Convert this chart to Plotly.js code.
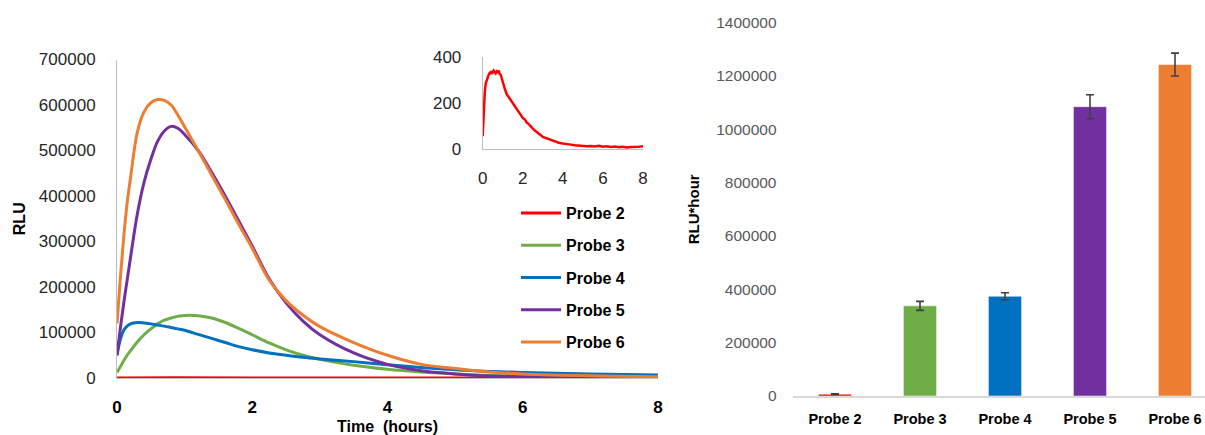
<!DOCTYPE html>
<html>
<head>
<meta charset="utf-8">
<script src="https://cdn.plot.ly/plotly-3.0.1.min.js"></script>
<style>html,body{margin:0;padding:0;background:#fff;}#chart{width:1205px;height:435px;}</style>
</head>
<body>
<div id="chart"></div>
<script>
// ---- Data ----
const probeNames = ["Probe 2", "Probe 3", "Probe 4", "Probe 5", "Probe 6"];
const probeColors = ["#FF0000", "#70AD47", "#0070C0", "#7030A0", "#ED7D31"];

// Kinetic curves, time in hours
const timeHours = [0, 0.05, 0.1, 0.15, 0.2, 0.3, 0.4, 0.5, 0.6, 0.7, 0.8, 0.9, 1.0, 1.2, 1.4, 1.6, 1.8, 2.0, 2.25, 2.5, 2.75, 3.0, 3.5, 4.0, 4.5, 5.0, 5.5, 6.0, 7.0, 8.0];
const probe3RLU = [12000, 25000, 38000, 50000, 60000, 79000, 95000, 108000, 119000, 127000, 132000, 135500, 137500, 137000, 132000, 122000, 109000, 95000, 77000, 62000, 50000, 41000, 28000, 19000, 13000, 9000, 6000, 4500, 2500, 1500];
const probe4RLU = [50000, 85000, 105000, 114000, 119000, 122000, 121000, 119000, 116500, 114000, 111000, 108000, 105000, 96000, 87000, 78000, 69000, 62000, 55000, 50000, 45500, 42000, 36000, 29000, 23000, 18000, 14500, 12000, 9000, 6500];
const probe5RLU = [50000, 110000, 165000, 215000, 265000, 360000, 430000, 480000, 520000, 543000, 553000, 549000, 535000, 500000, 452000, 400000, 345000, 290000, 218000, 165000, 125000, 95000, 55000, 30000, 16000, 9000, 4500, 2500, 1000, 500];
const probe6RLU = [120000, 220000, 310000, 385000, 440000, 540000, 585000, 605000, 612000, 610000, 600000, 578000, 552000, 500000, 446000, 393000, 338000, 285000, 215000, 170000, 138000, 113000, 78000, 50000, 30000, 21000, 13000, 9000, 5000, 3000];

// Probe 2 (inset, noisy low signal)
const probe2Time = [0, 0.05, 0.1, 0.15, 0.2, 0.25, 0.3, 0.35, 0.4, 0.45, 0.5, 0.55, 0.6, 0.65, 0.7, 0.75, 0.8, 0.85, 0.9, 0.95, 1.0,
  1.1, 1.2, 1.3, 1.4, 1.5, 1.6, 1.7, 1.8, 1.9, 2.0, 2.1, 2.2, 2.3, 2.4, 2.5, 2.6, 2.7, 2.8, 2.9, 3.0,
  3.2, 3.4, 3.6, 3.8, 4.0, 4.2, 4.4, 4.6, 4.8, 5.0, 5.2, 5.4, 5.6, 5.8, 6.0, 6.2, 6.4, 6.6, 6.8, 7.0, 7.2, 7.4, 7.6, 7.8, 8.0];
const probe2RLU = [55, 170, 240, 285, 300, 318, 322, 330, 328, 338, 332, 340, 335, 328, 336, 330, 340, 325, 322, 305, 290,
  262, 238, 225, 208, 196, 182, 170, 158, 148, 135, 128, 114, 108, 96, 88, 80, 74, 66, 60, 52,
  46, 38, 33, 27, 24, 20, 19, 16, 14, 15, 12, 13, 11, 14, 10, 12, 9, 11, 8, 10, 7, 9, 8, 10, 12];

// Integrated signal (RLU*hour)
const aucValues = [7000, 338000, 374000, 1085000, 1243000];
const aucErrors = [1000, 17000, 13000, 45000, 43000];

const mainYTicks = [0, 100000, 200000, 300000, 400000, 500000, 600000, 700000];
const insetYTicks = [0, 200, 400];
const timeTicks = [0, 2, 4, 6, 8];
const barYTicks = [0, 200000, 400000, 600000, 800000, 1000000, 1200000, 1400000];

// ---- Traces ----
const FONT = "Liberation Sans, Arial, sans-serif";
const curveSeries = [probe2RLU, probe3RLU, probe4RLU, probe5RLU, probe6RLU];
const traces = [];
curveSeries.forEach((vals, i) => {
  traces.push({
    type: "scatter", mode: "lines",
    x: i === 0 ? probe2Time : timeHours, y: vals,
    name: probeNames[i],
    legendgroup: "g" + i,
    line: {color: probeColors[i], width: 3, shape: i === 0 ? "linear" : "spline", smoothing: 1},
    xaxis: "x", yaxis: "y", hoverinfo: "skip"
  });
});
traces.push({
  type: "scatter", mode: "lines", x: probe2Time, y: probe2RLU,
  line: {color: "#FF0000", width: 2.5}, xaxis: "x2", yaxis: "y2",
  showlegend: false, hoverinfo: "skip"
});
traces.push({
  type: "bar", x: probeNames, y: aucValues, width: 0.39,
  marker: {color: probeColors, line: {color: "#ffffff", width: 0.5}},
  error_y: {type: "data", array: aucErrors, visible: true, color: "#404040", thickness: 1.6, width: 4},
  xaxis: "x3", yaxis: "y3", showlegend: false, hoverinfo: "skip"
});

const W = 1205, H = 435;
const px = v => v / W;
const py = v => (H - v) / H;

const layout = {
  width: W, height: H,
  margin: {l: 0, r: 0, t: 0, b: 0},
  paper_bgcolor: "#ffffff", plot_bgcolor: "rgba(0,0,0,0)",
  font: {family: FONT, color: "#262626"},
  showlegend: true,
  legend: {
    x: px(516), y: py(196), xanchor: "left", yanchor: "top",
    traceorder: "grouped", tracegroupgap: 8.5,
    font: {family: FONT, size: 16, color: "#000000", weight: "bold"},
    bgcolor: "rgba(0,0,0,0)", itemwidth: 40
  },
  xaxis: {
    domain: [px(117), px(658)], range: [0, 8], anchor: "y",
    tickvals: timeTicks, ticktext: timeTicks.map(String),
    showgrid: false, zeroline: false, showline: true, linecolor: "#BFBFBF", linewidth: 1,
    ticks: "", ticklabelstandoff: 14,
    tickfont: {family: FONT, size: 17, color: "#000000", weight: "bold"},
    title: {text: "Time\u00a0 (hours)", font: {family: FONT, size: 16, color: "#000000", weight: "bold"}, standoff: 6}
  },
  yaxis: {
    domain: [py(378), py(59.5)], range: [0, 700000], anchor: "x",
    tickvals: mainYTicks, ticktext: mainYTicks.map(String),
    showgrid: false, zeroline: false, showline: true, linecolor: "#BFBFBF", linewidth: 1,
    ticks: "", ticklabelstandoff: 17,
    tickfont: {family: FONT, size: 17, color: "#262626"},
    title: {text: "RLU", font: {family: FONT, size: 16, color: "#000000", weight: "bold"}, standoff: 9}
  },
  xaxis2: {
    domain: [px(482.7), px(643)], range: [0, 8], anchor: "y2",
    tickvals: timeTicks, ticktext: timeTicks.map(String),
    showgrid: false, zeroline: false, showline: true, linecolor: "#BFBFBF", linewidth: 1,
    ticks: "", ticklabelstandoff: 14,
    tickfont: {family: FONT, size: 17, color: "#262626"}
  },
  yaxis2: {
    domain: [py(149), py(56.7)], range: [0, 400], anchor: "x2",
    tickvals: insetYTicks, ticktext: insetYTicks.map(String),
    showgrid: false, zeroline: false, showline: true, linecolor: "#BFBFBF", linewidth: 1,
    ticks: "", ticklabelstandoff: 17,
    tickfont: {family: FONT, size: 17, color: "#262626"}
  },
  xaxis3: {
    domain: [px(792.5), 1], range: [-0.5, 4.353], anchor: "y3",
    type: "category",
    showgrid: false, zeroline: false, showline: true, linecolor: "#D9D9D9", linewidth: 1.5,
    ticks: "", ticklabelstandoff: 9,
    tickfont: {family: FONT, size: 14.5, color: "#000000", weight: "bold"}
  },
  yaxis3: {
    domain: [py(396), py(22.7)], range: [0, 1400000], anchor: "x3",
    tickvals: barYTicks, ticktext: barYTicks.map(String),
    showgrid: false, zeroline: false, showline: false,
    ticks: "", ticklabelstandoff: 15,
    tickfont: {family: FONT, size: 15.5, color: "#595959"},
    title: {text: "RLU*hour", font: {family: FONT, size: 15, color: "#000000", weight: "bold"}, standoff: 12}
  }
};

Plotly.newPlot("chart", traces, layout, {staticPlot: true, displayModeBar: false});
</script>
</body>
</html>
